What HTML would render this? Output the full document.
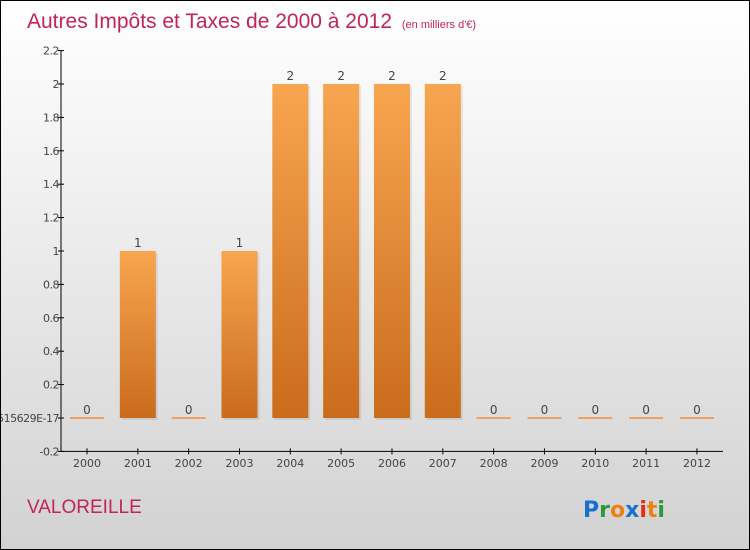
<!DOCTYPE html>
<html><head><meta charset="utf-8"><style>
body{margin:0}
#c{width:748px;height:548px;border:1px solid #000;background:linear-gradient(#fff,#f2f2f2 30%,#d2d2d2);position:relative;overflow:hidden;font-family:"DejaVu Sans","Liberation Sans",sans-serif}
svg{position:absolute;left:0;top:0}
</style></head><body>
<div id="c">
<svg width="748" height="548" id="s">
<defs><linearGradient id="g" x1="0" y1="0" x2="0" y2="1"><stop offset="0" stop-color="#f8a550"/><stop offset="1" stop-color="#c96c1c"/></linearGradient></defs>
<text x="26" y="27" font-size="21" fill="#c0245a" font-family="Liberation Sans, sans-serif">Autres Impôts et Taxes de 2000 à 2012 <tspan font-size="11" dx="4">(en milliers d'€)</tspan></text>
<text x="26" y="512" font-size="19" fill="#c0245a" font-family="Liberation Sans, sans-serif">VALOREILLE</text>
<g font-size="22" font-weight="bold"><text x="582" y="516"><tspan fill="#1a6fd0">P</tspan><tspan fill="#2a9a3a">r</tspan><tspan fill="#f08010">o</tspan><tspan fill="#1a6fd0">x</tspan><tspan fill="#e03010">i</tspan><tspan fill="#f08010">t</tspan><tspan fill="#2a9a3a">i</tspan></text></g>
</svg></div>
<script>
const categories=["2000","2001","2002","2003","2004","2005","2006","2007","2008","2009","2010","2011","2012"];
const values=[0,1,0,1,2,2,2,2,0,0,0,0,0];
const yTicks=[-0.2,0,0.2,0.4,0.6,0.8,1,1.2,1.4,1.6,1.8,2,2.2];
const yTickLabels=["-0.2","5.55111515629E-17","0.2","0.4","0.6","0.8","1","1.2","1.4","1.6","1.8","2","2.2"];
const s=document.getElementById('s');const NS="http://www.w3.org/2000/svg";
function y(v){return 417-(v)*167;}
function x(i){return 86+i*50.83;}
function el(t,a,txt){const e=document.createElementNS(NS,t);for(const k in a)e.setAttribute(k,a[k]);if(txt!==undefined)e.textContent=txt;s.appendChild(e);return e;}
let e=el('line',{x1:60,y1:y(2.2),x2:60,y2:y(-0.2),stroke:'#000'});

e=el('line',{x1:60,y1:y(-0.2),x2:722,y2:y(-0.2),stroke:'#000'});

yTicks.forEach((v,i)=>{
 el('line',{x1:57,x2:63,y1:y(v),y2:y(v),stroke:'#000'});
 const t=el('text',{x:58,y:y(v)+4,'font-size':11,fill:'#444','text-anchor':'end','letter-spacing':'-0.5'},yTickLabels[i]);
 
});
categories.forEach((c,i)=>{
 el('line',{x1:x(i),x2:x(i),y1:y(-0.2)-3,y2:y(-0.2)+3,stroke:'#000'});
 const t=el('text',{x:x(i),y:466,'font-size':11,fill:'#444','text-anchor':'middle'},c);
 
 const v=values[i];
 let b;
 if(v===0){b=el('rect',{x:x(i)-17,y:y(0)-1,width:34,height:2,fill:'#f0a060'});}
 else{el('rect',{x:x(i)-16,y:y(v)+2,width:36,height:y(0)-y(v),fill:'#000',opacity:0.08});
 b=el('rect',{x:x(i)-18,y:y(v),width:36,height:y(0)-y(v),fill:'url(#g)'});}
 
 const l=el('text',{x:x(i),y:y(v)-4,'font-size':12,fill:'#444','text-anchor':'middle'},String(v));
 
});
</script>
</body></html>
